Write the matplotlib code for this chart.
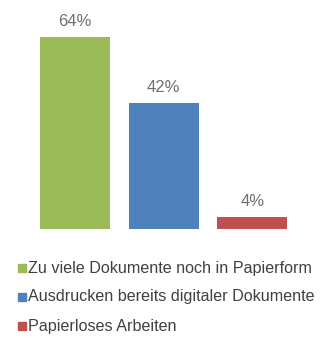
import matplotlib
matplotlib.use("Agg")
import matplotlib.pyplot as plt
from matplotlib.patches import Rectangle

categories = ["Zu viele Dokumente noch in Papierform",
              "Ausdrucken bereits digitaler Dokumente",
              "Papierloses Arbeiten"]
values = [64, 42, 4]
colors = ["#9BBB59", "#4F81BD", "#C0504D"]

plt.rcParams['font.family'] = ['Liberation Sans', 'DejaVu Sans']
W, H = 324, 340
fig = plt.figure(figsize=(W / 100, H / 100), dpi=100)

# axes in pixel coords
left, right = 31, 296.5
base, top = 229, 19
ax = fig.add_axes([left / W, 1 - base / H, (right - left) / W, (base - top) / H])
x = list(range(len(values)))
bars = ax.bar(x, values, width=0.79, color=colors)
ax.set_xlim(-0.5, 2.5)
ax.set_ylim(0, 70)
ax.axis('off')
for xi, v in zip(x, values):
    ax.annotate(f"{v}%", (xi, v), xytext=(0, 6), textcoords='offset points',
                ha='center', va='bottom', fontsize=12, color='#707070')

# legend
y0 = 268
for i, (c, col) in enumerate(zip(categories, colors)):
    yc = y0 + i * 29
    fig.patches.append(Rectangle((18 / W, 1 - (yc + 4) / H), 8 / W, 8 / H,
                                 transform=fig.transFigure, color=col))
    fig.text(28.5 / W, 1 - yc / H, c, fontsize=11.6, color='#404040',
             ha='left', va='center')

fig.savefig("out.png", dpi=100)
